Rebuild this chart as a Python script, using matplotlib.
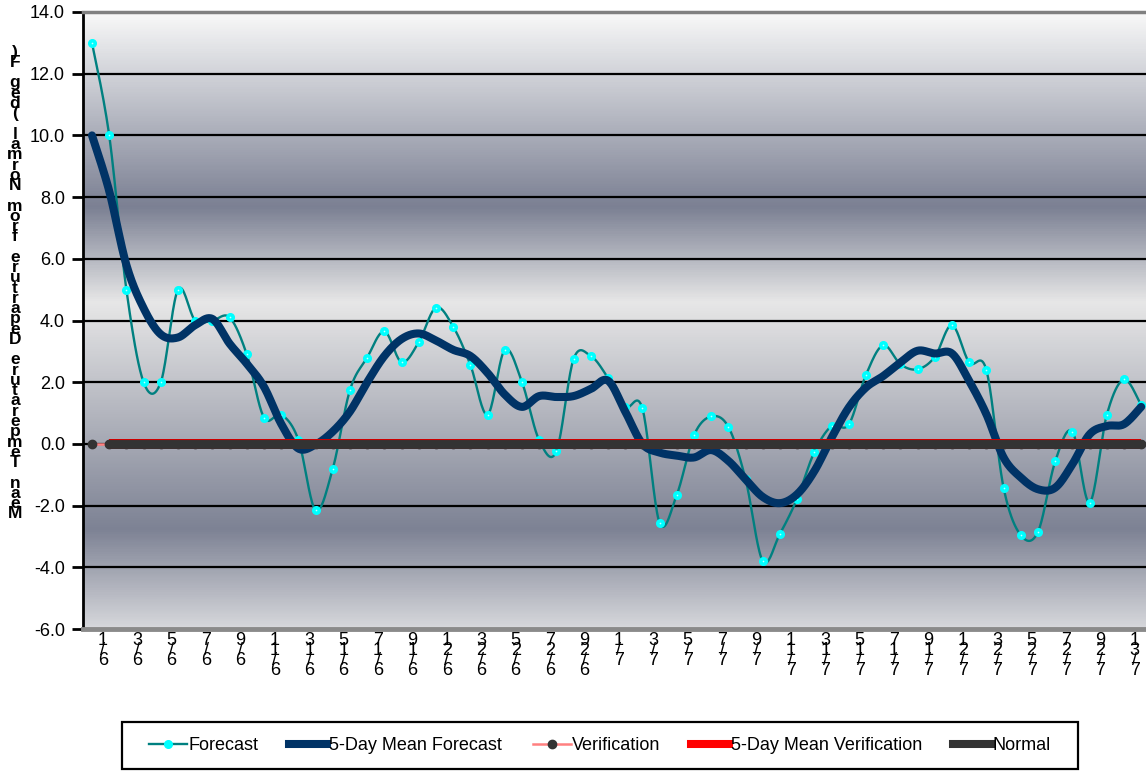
import numpy as np
import matplotlib
matplotlib.use("Agg")
import matplotlib.pyplot as plt
from matplotlib.colors import LinearSegmentedColormap
from matplotlib.lines import Line2D
from matplotlib.patches import Rectangle

plt.rcParams['font.family'] = ['Liberation Sans', 'DejaVu Sans']
plt.rcParams['axes.unicode_minus'] = False

# ---------------- data ----------------
forecast = [13.0, 10.0, 5.0, 2.0, 2.0, 5.0, 4.0, 4.0, 4.1, 2.9,
            0.85, 0.95, 0.13, -2.15, -0.8, 1.75, 2.8, 3.65, 2.65, 3.3,
            4.42, 3.8, 2.56, 0.95, 3.05, 2.0, 0.12, -0.24, 2.75, 2.85,
            2.14, 1.2, 1.15, -2.56, -1.65, 0.28, 0.89, 0.55, -1.15, -3.8,
            -2.91, -1.77, -0.26, 0.58, 0.63, 2.24, 3.2, 2.58, 2.42, 2.82,
            3.85, 2.64, 2.39, -1.42, -2.96, -2.85, -0.57, 0.40, -1.9, 0.94,
            2.09, 1.25]

mean5_forecast = [10.0, 8.2, 5.8, 4.4, 3.55, 3.45, 3.85, 4.05, 3.25, 2.6,
                  1.85, 0.65, -0.15, -0.02, 0.4, 1.05, 2.0, 2.85, 3.4, 3.58,
                  3.35, 3.05, 2.85, 2.3, 1.6, 1.2, 1.55, 1.52, 1.55, 1.78,
                  2.05, 1.05, 0.0, -0.28, -0.38, -0.44, -0.2, -0.55, -1.15, -1.72,
                  -1.92, -1.63, -0.88, 0.2, 1.18, 1.83, 2.2, 2.64, 3.02, 2.93,
                  2.93, 2.04, 0.96, -0.44, -1.09, -1.47, -1.42, -0.66, 0.31, 0.58,
                  0.64, 1.2]

verification = [0.0, 0.0, 0.0, 0.0, 0.0, 0.0, 0.0, 0.0, 0.0, 0.0,
                 0.0, 0.0, 0.0, 0.0, 0.0, 0.0, 0.0, 0.0, 0.0, 0.0,
                 0.0, 0.0, 0.0, 0.0, 0.0, 0.0, 0.0, 0.0, 0.0, 0.0,
                 0.0, 0.0, 0.0, 0.0, 0.0, 0.0, 0.0, 0.0, 0.0, 0.0,
                 0.0, 0.0, 0.0, 0.0, 0.0, 0.0, 0.0, 0.0, 0.0, 0.0,
                 0.0, 0.0, 0.0, 0.0, 0.0, 0.0, 0.0, 0.0, 0.0, 0.0,
                 0.0, 0.0]

mean5_verification = [None, 0.0, 0.0, 0.0, 0.0, 0.0, 0.0, 0.0, 0.0, 0.0,
                      0.0, 0.0, 0.0, 0.0, 0.0, 0.0, 0.0, 0.0, 0.0, 0.0,
                      0.0, 0.0, 0.0, 0.0, 0.0, 0.0, 0.0, 0.0, 0.0, 0.0,
                      0.0, 0.0, 0.0, 0.0, 0.0, 0.0, 0.0, 0.0, 0.0, 0.0,
                      0.0, 0.0, 0.0, 0.0, 0.0, 0.0, 0.0, 0.0, 0.0, 0.0,
                      0.0, 0.0, 0.0, 0.0, 0.0, 0.0, 0.0, 0.0, 0.0, 0.0,
                      0.0, 0.0]

normal = [None, 0.0, 0.0, 0.0, 0.0, 0.0, 0.0, 0.0, 0.0, 0.0,
          0.0, 0.0, 0.0, 0.0, 0.0, 0.0, 0.0, 0.0, 0.0, 0.0,
          0.0, 0.0, 0.0, 0.0, 0.0, 0.0, 0.0, 0.0, 0.0, 0.0,
          0.0, 0.0, 0.0, 0.0, 0.0, 0.0, 0.0, 0.0, 0.0, 0.0,
          0.0, 0.0, 0.0, 0.0, 0.0, 0.0, 0.0, 0.0, 0.0, 0.0,
          0.0, 0.0, 0.0, 0.0, 0.0, 0.0, 0.0, 0.0, 0.0, 0.0,
          0.0, 0.0]

date_labels = ["6/1", "6/3", "6/5", "6/7", "6/9", "6/11", "6/13", "6/15",
               "6/17", "6/19", "6/21", "6/23", "6/25", "6/27", "6/29",
               "7/1", "7/3", "7/5", "7/7", "7/9", "7/11", "7/13", "7/15",
               "7/17", "7/19", "7/21", "7/23", "7/25", "7/27", "7/29", "7/31"]

series_names = ["Forecast", "5-Day Mean Forecast", "Verification",
                "5-Day Mean Verification", "Normal"]
y_label = "Mean Temperature Departure from Normal (deg F)"
y_ticks = [-6.0, -4.0, -2.0, 0.0, 2.0, 4.0, 6.0, 8.0, 10.0, 12.0, 14.0]

# ---------------- helpers ----------------
def smooth(xv, yv, n=20):
    """Excel-style smoothed line (Bezier with Catmull-Rom control points)."""
    pts = np.column_stack([np.asarray(xv, float), np.asarray(yv, float)])
    P = np.vstack([pts[0], pts, pts[-1]])
    t = np.linspace(0, 1, n, endpoint=False)[:, None]
    segs = []
    for i in range(1, len(P) - 2):
        p0, p1, p2, p3 = P[i - 1], P[i], P[i + 1], P[i + 2]
        c1 = p1 + (p2 - p0) / 6.0
        c2 = p2 - (p3 - p1) / 6.0
        segs.append(((1 - t) ** 3) * p1 + 3 * ((1 - t) ** 2) * t * c1
                    + 3 * (1 - t) * t ** 2 * c2 + t ** 3 * p2)
    segs.append(pts[-1][None, :])
    return np.vstack(segs)

def as_float(seq):
    return np.array([np.nan if v is None else v for v in seq], float)

# ---------------- figure ----------------
W, H = 1146, 771
fig = plt.figure(figsize=(W / 100, H / 100), dpi=100)
ax = fig.add_axes([83 / W, 142 / H, (W - 83) / W, (629 - 12) / H])

n = len(forecast)
x = np.arange(n)
xlim = (-0.523, 61.28)
ylim = (y_ticks[0], y_ticks[-1])

# gradient background
stops = [(-6.0, '#d6d7db'), (-2.8, '#7d8294'), (4.6, '#e7e7e7'),
         (7.7, '#7b8093'), (14.0, '#f8f8f8')]
cmap = LinearSegmentedColormap.from_list(
    'bg', [((v - ylim[0]) / (ylim[1] - ylim[0]), c) for v, c in stops])
grad = np.linspace(0, 1, 600)[:, None]
ax.imshow(grad, extent=[xlim[0], xlim[1], ylim[0], ylim[1]], origin='lower',
          aspect='auto', cmap=cmap, zorder=0, interpolation='bilinear')

# gridlines (interior)
for v in y_ticks[1:-1]:
    ax.axhline(v, color='black', lw=1.6, zorder=1)

# Forecast
s = smooth(x, forecast)
ax.plot(s[:, 0], s[:, 1], color='#008080', lw=1.7, zorder=3)
ax.plot(x, forecast, ls='none', marker='o', ms=5.5, mfc='#00ffff',
        mec='#00ffff', zorder=3)
ax.plot(x, forecast, ls='none', marker='o', ms=1.2, mfc='#c8ffff',
        mec='none', zorder=3)

# 5-day mean forecast
s2 = smooth(x, mean5_forecast)
ax.plot(s2[:, 0], s2[:, 1], color='#003366', lw=5.8, zorder=4,
        solid_capstyle='round', solid_joinstyle='round')

# Verification
ax.plot(x, verification, color='#ff8080', lw=1.8, marker='o', ms=6,
        mfc='#333333', mec='#333333', zorder=5)

# 5-day mean verification
mv = as_float(mean5_verification)
ax.plot(x, mv, color='#cc0000', lw=7.2, zorder=6, solid_capstyle='butt')

# Normal
nv = as_float(normal)
ax.plot(x, nv, color='#333333', lw=6.4, zorder=7, solid_capstyle='round')

ax.set_xlim(*xlim)
ax.set_ylim(*ylim)

# y axis
ax.set_yticks(y_ticks)
ax.set_yticklabels([f"{v:.1f}" for v in y_ticks])
ax.tick_params(axis='y', direction='out', length=8, width=2, labelsize=13,
               pad=5, colors='black')

# x axis: stacked (reversed) characters
tick_pos = 0.63 + 2.0 * np.arange(len(date_labels))
ax.set_xticks(tick_pos)
ax.set_xticklabels([])
ax.tick_params(axis='x', length=0)
xtrans = ax.get_xaxis_transform()
for p, lbl in zip(tick_pos, date_labels):
    ax.text(p, -0.005, "\n".join(lbl[::-1]), transform=xtrans,
            ha='center', va='top', fontsize=13, linespacing=0.47,
            multialignment='center', clip_on=False)

ax.spines['right'].set_visible(False)
ax.spines['left'].set_color('black')
ax.spines['left'].set_linewidth(2)
ax.spines['top'].set_color('#808080')
ax.spines['top'].set_linewidth(2.5)
ax.spines['bottom'].set_color('#8a8a8a')
ax.spines['bottom'].set_linewidth(3.5)

# y label, stacked reversed characters
fig.text(15 / W, 1 - 283 / H, "\n".join(y_label[::-1]), ha='center',
         va='center', fontsize=12.5, fontweight='bold', linespacing=0.605,
         multialignment='center')

# legend
handles = [
    Line2D([], [], color='#008080', lw=1.7, marker='o', ms=5.5,
           mfc='#00ffff', mec='#00ffff'),
    Line2D([], [], color='#003366', lw=5.8),
    Line2D([], [], color='#ff8080', lw=1.8, marker='o', ms=6,
           mfc='#333333', mec='#333333'),
    Line2D([], [], color='#ff0000', lw=5.8),
    Line2D([], [], color='#333333', lw=5.8),
]
fig.legend(handles, series_names, loc='center',
           bbox_to_anchor=(600 / W, 1 - 746 / H), ncol=5, frameon=False,
           fontsize=13, handlelength=2.1, handletextpad=0.1,
           columnspacing=1.7)
fig.add_artist(Rectangle((122 / W, 1 - 769 / H), (1078 - 122) / W, 47 / H,
                         transform=fig.transFigure, fill=False,
                         ec='black', lw=1.6))

fig.savefig("out.png", dpi=100)
